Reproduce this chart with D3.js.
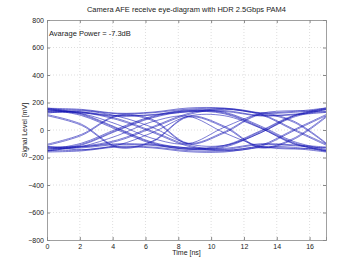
<!DOCTYPE html>
<html><head><meta charset="utf-8">
<script src="https://cdn.jsdelivr.net/npm/d3@7"></script>
<style>body{margin:0;background:#fff}svg{display:block}text{font-family:"Liberation Sans",Arial,sans-serif;fill:#222}</style>
</head><body><svg id="c" width="360" height="270"></svg>
<script>
const title = "Camera AFE receive eye-diagram with HDR 2.5Gbps PAM4";
const note = "Avarage Power = -7.3dB";
const xTicks = [0,2,4,6,8,10,12,14,16];
const yTicks = [800,600,400,200,0,-200,-400,-600,-800];
const knotTimes = [0, 2.1, 4.3, 6.4, 8.6, 10.8, 13, 15, 17];
// each trace: signal level (mV) at the knot times
const traces = [
  [150, 145, 118, 125, 152, 155, 122, 128, 152],
  [158, 150, 122, 130, 160, 160, 126, 135, 160],
  [135, 130, 105, 112, 140, 142, 106, 115, 135],
  [128, 124, 100, 108, 132, 135, 102, 110, 128],
  [150, 105, 0, -100, -140, -125, -20, 92, 148],
  [156, 112, 8, -94, -135, -118, -12, 100, 155],
  [160, 118, 14, -88, -130, -112, -6, 106, 160],
  [142, 132, 82, -8, -110, -145, -112, 0, 112],
  [136, 128, 74, -16, -118, -152, -120, -8, 104],
  [-152, -145, -118, -124, -150, -152, -120, -126, -152],
  [-160, -152, -124, -130, -158, -160, -128, -134, -160],
  [-135, -130, -106, -112, -140, -142, -106, -114, -132],
  [-126, -122, -100, -106, -130, -134, -100, -108, -124],
  [-142, -96, 10, 100, 146, 130, 30, -82, -142],
  [-148, -104, 2, 94, 140, 124, 22, -90, -150],
  [-154, -110, -4, 88, 134, 118, 16, -96, -156],
  [-130, -124, -80, 14, 112, 150, 112, 0, -110],
  [-122, -118, -72, 22, 120, 156, 118, 8, -102],
  [122, 140, 100, 20, -100, -112, -22, 100, 148],
  [-118, -144, -110, -20, 100, 104, 14, -100, -148],
  [-112, -40, 102, 70, -102, -22, 110, 58, -100],
  [-104, -32, 108, 78, -96, -14, 116, 66, -94],
  [112, 42, -122, -82, 100, 28, -124, -62, 100],
  [104, 34, -128, -88, 94, 20, -130, -70, 92],
  [148, 120, 40, -60, -100, 20, 120, 140, 130],
  [-150, -120, -40, 60, 100, -20, -118, -138, -126]
];

const svg = d3.select("#c");
const m = {l:47, r:326, t:20, b:240};
const x = d3.scaleLinear().domain([0,17]).range([m.l, m.r]);
const y = d3.scaleLinear().domain([-800,800]).range([m.b, m.t]);

// grid
const g = svg.append("g");
g.selectAll("line.gx").data(xTicks.filter(d=>d>0)).join("line")
  .attr("x1",d=>x(d)).attr("x2",d=>x(d)).attr("y1",m.t).attr("y2",m.b)
  .attr("stroke","#c8c8c8").attr("stroke-width",0.6).attr("stroke-dasharray","1,2");
g.selectAll("line.gy").data(yTicks.filter(d=>d>-800&&d<800)).join("line")
  .attr("y1",d=>y(d)).attr("y2",d=>y(d)).attr("x1",m.l).attr("x2",m.r)
  .attr("stroke","#c8c8c8").attr("stroke-width",0.6).attr("stroke-dasharray","1,2");

// traces
const line = d3.line().x((d,i)=>x(knotTimes[i])).y(d=>y(d)).curve(d3.curveCatmullRom.alpha(0.5));
svg.append("g").selectAll("path").data(traces).join("path")
  .attr("d", line).attr("fill","none").attr("stroke","#1414b4")
  .attr("stroke-width",0.8).attr("stroke-opacity",0.7);

// axes (ticks inside)
const axB = svg.append("g").attr("transform",`translate(0,${m.b})`)
  .call(d3.axisBottom(x).tickValues(xTicks).tickSize(-3).tickPadding(4));
const axL = svg.append("g").attr("transform",`translate(${m.l},0)`)
  .call(d3.axisLeft(y).tickValues(yTicks).tickSize(-3).tickPadding(3));
const axT = svg.append("g").attr("transform",`translate(0,${m.t})`)
  .call(d3.axisTop(x).tickValues(xTicks).tickSize(-3).tickFormat(""));
const axR = svg.append("g").attr("transform",`translate(${m.r},0)`)
  .call(d3.axisRight(y).tickValues(yTicks).tickSize(-3).tickFormat(""));
[axB,axL,axT,axR].forEach(a=>{
  a.selectAll("path").attr("stroke","#888").attr("stroke-width",0.8);
  a.selectAll("line").attr("stroke","#888");
  a.selectAll("text").attr("font-size",7).attr("fill","#222").attr("font-family","Liberation Sans, Arial");
});

svg.append("text").attr("x",(m.l+m.r)/2).attr("y",12).attr("text-anchor","middle")
  .attr("font-size",7.5).text(title);
svg.append("text").attr("x",49).attr("y",36).attr("font-size",7.5).text(note);
svg.append("text").attr("x",(m.l+m.r)/2).attr("y",255).attr("text-anchor","middle")
  .attr("font-size",7).text("Time [ns]");
svg.append("text").attr("transform",`translate(27,${y(0)}) rotate(-90)`).attr("text-anchor","middle")
  .attr("font-size",7).text("Signal Level [mV]");
</script></body></html>
